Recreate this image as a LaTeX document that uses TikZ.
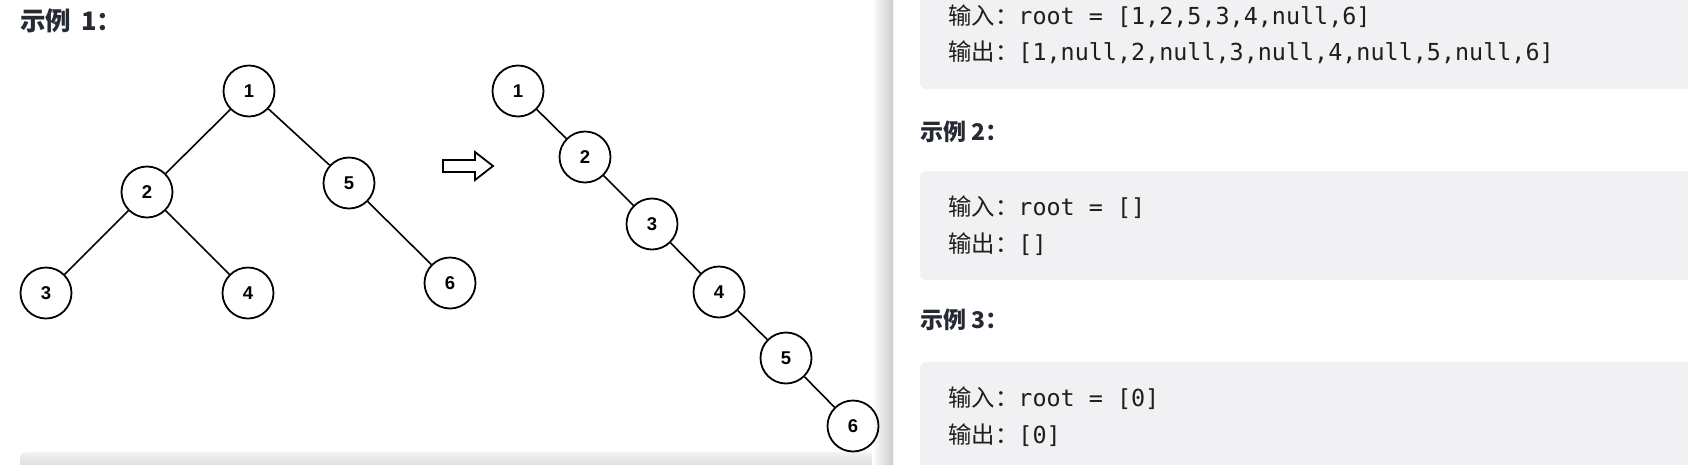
\documentclass[tikz,border=0pt]{standalone}
\usepackage{fontspec}
\setmainfont{Liberation Sans}
\newfontfamily\cjk{Noto Sans CJK SC}
\newfontfamily\mono{DejaVu Sans Mono}
\definecolor{codebg}{HTML}{F1F1F3}
\definecolor{headc}{HTML}{262B33}
\definecolor{codec}{HTML}{1E1E1E}
\begin{document}
\begin{tikzpicture}[x=1pt,y=-1pt,
  tn/.style={circle, draw, line width=1.8pt, minimum size=51pt, inner sep=0pt,
    font=\fontsize{18.5}{18.5}\selectfont\bfseries},
  edge/.style={line width=1.6pt},
  heading/.style={anchor=west, inner sep=0pt, text=headc,
    font=\cjk\bfseries\fontsize{23}{23}\selectfont},
  code/.style={anchor=west, inner sep=0pt, text=codec,
    font=\fontsize{23.4}{23.4}\selectfont},
  codebox/.style={fill=codebg, rounded corners=6pt}]
\useasboundingbox (0,0) rectangle (1688,464);
\clip (0,0) rectangle (1688,464);

% left image bottom strip
\shade[top color=black!5, bottom color=black!18, rounded corners=5pt] (20,452) rectangle (879,475);

% panel shadow
\shade[left color=white, right color=black!20] (872,0) rectangle (893,464);

% heading 1
\node[heading, font=\cjk\bfseries\fontsize{25.5}{25.5}\selectfont] (h1) at (20,21) {示例\hspace{4pt} 1：};

% left tree
\node[tn] (a1) at (249,91) {1};
\node[tn] (a2) at (147,192) {2};
\node[tn] (a5) at (349,183) {5};
\node[tn] (a3) at (46,293) {3};
\node[tn] (a4) at (248,293) {4};
\node[tn] (a6) at (450,283) {6};
\draw[edge] (a1) -- (a2);
\draw[edge] (a1) -- (a5);
\draw[edge] (a2) -- (a3);
\draw[edge] (a2) -- (a4);
\draw[edge] (a5) -- (a6);

% hollow arrow
\draw[line width=1.8pt, line join=miter, fill=white]
  (443,160) -- (475,160) -- (475,152) -- (493,166) -- (475,180) -- (475,172) -- (443,172) -- cycle;

% right tree
\node[tn] (b1) at (518,91) {1};
\node[tn] (b2) at (585,157) {2};
\node[tn] (b3) at (652,224) {3};
\node[tn] (b4) at (719,292) {4};
\node[tn] (b5) at (786,358) {5};
\node[tn] (b6) at (853,426) {6};
\draw[edge] (b1) -- (b2);
\draw[edge] (b2) -- (b3);
\draw[edge] (b3) -- (b4);
\draw[edge] (b4) -- (b5);
\draw[edge] (b5) -- (b6);

% code boxes
\fill[codebg, rounded corners=6pt] (920,-20) rectangle (1700,89);
\fill[codebg, rounded corners=6pt] (920,171) rectangle (1700,280);
\fill[codebg, rounded corners=6pt] (920,362) rectangle (1700,490);

\node[code] (i1) at (948,16) {{\cjk 输入：}{\mono root = [1,2,5,3,4,null,6]}};
\node[code] (o1) at (948,52) {{\cjk 输出：}{\mono [1,null,2,null,3,null,4,null,5,null,6]}};

\node[heading] (h2) at (920,132) {示例 2：};
\node[code] (i2) at (948,207) {{\cjk 输入：}{\mono root = []}};
\node[code] (o2) at (948,244) {{\cjk 输出：}{\mono []}};

\node[heading] (h3) at (920,320) {示例 3：};
\node[code] (i3) at (948,398) {{\cjk 输入：}{\mono root = [0]}};
\node[code] (o3) at (948,435) {{\cjk 输出：}{\mono [0]}};
\end{tikzpicture}
\end{document}
